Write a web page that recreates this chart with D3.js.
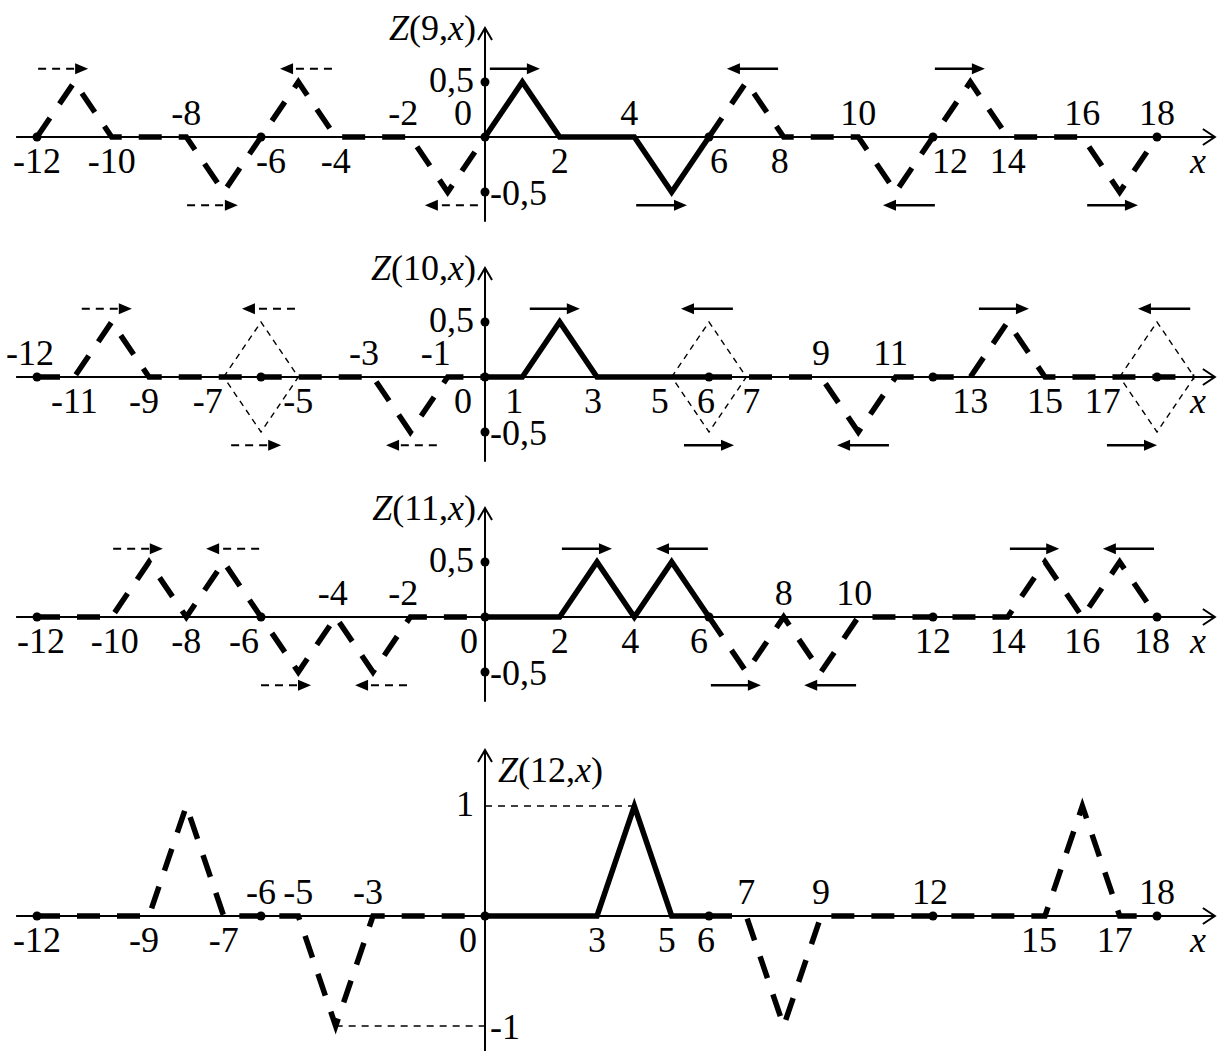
<!DOCTYPE html>
<html>
<head>
<meta charset="utf-8">
<script src="https://cdn.jsdelivr.net/npm/d3@7"></script>
<style>
  body { margin: 0; background: #fff; }
  text { font-family: "Liberation Serif", "Times New Roman", serif; font-size: 36px; fill: #000; }
</style>
</head>
<body>
<div id="chart"></div>
<script>
// ---- data (x in units, y = Z value) ----
const z9Solid = [[0,0],[1,0.5],[2,0],[4,0],[5,-0.5],[6,0]];
const z9DashLeft = [[-12,0],[-11,0.5],[-10,0],[-8,0],[-7,-0.5],[-6,0],[-5,0.5],[-4,0],[-2,0],[-1,-0.5],[0,0]];
const z9DashRight = [[6,0],[7,0.5],[8,0],[10,0],[11,-0.5],[12,0],[13,0.5],[14,0],[16,0],[17,-0.5],[18,0]];
const z9Top = [-8, -2, 0, 4, 10, 16, 18];
const z9Bottom = [-12, -10, -6, -4, 2, 6, 8, 12, 14];
// arrows: [from, to, level]
const z9ArrowsDashed = [[-11.97,-10.63,0.62],[-7.98,-6.62,-0.62],[-4.1,-5.49,0.62],[-0.19,-1.61,-0.62]];
const z9ArrowsSolid = [[0.13,1.47,0.62],[4.05,5.41,-0.62],[7.85,6.48,0.62],[12.05,10.66,-0.62],[12.05,13.39,0.62],[16.13,17.49,-0.62]];

const z10Solid = [[0,0],[1,0],[2,0.5],[3,0],[6,0]];
const z10DashLeft = [[-12,0],[-11,0],[-10,0.5],[-9,0],[-3,0],[-2,-0.5],[-1,0],[0,0]];
const z10DashRight = [[6,0],[9,0],[10,-0.5],[11,0],[13,0],[14,0.5],[15,0],[19,0]];
const z10Diamonds = [-6, 6, 18];
const z10Top = [-12, -3, -1, 9, 11];
const z10Bottom = [-11, -9, -7, -5, 0, 1, 3, 5, 6, 7, 13, 15, 17];
const z10ArrowsDashed = [[-10.8,-9.46,0.62],[-5.09,-6.51,0.62],[-6.8,-5.46,-0.62],[-1.29,-2.65,-0.62]];
const z10ArrowsSolid = [[1.2,2.54,0.62],[6.64,5.25,0.62],[5.33,6.67,-0.62],[10.82,9.43,-0.62],[13.23,14.57,0.62],[18.89,17.49,0.62],[16.66,18.0,-0.62]];

const z11Solid = [[0,0],[2,0],[3,0.5],[4,0],[5,0.5],[6,0]];
const z11DashLeft = [[-12,0],[-10,0],[-9,0.5],[-8,0],[-7,0.5],[-6,0],[-5,-0.5],[-4,0],[-3,-0.5],[-2,0],[0,0]];
const z11DashRight = [[6,0],[7,-0.5],[8,0],[9,-0.5],[10,0],[14,0],[15,0.5],[16,0],[17,0.5],[18,0]];
const z11Top = [-4, -2, 8, 10];
const z11Bottom = [-12, -10, -8, -6, 0, 2, 4, 6, 12, 14, 16, 18];
const z11ArrowsDashed = [[-9.96,-8.63,0.62],[-6.05,-7.47,0.62],[-6.0,-4.66,-0.62],[-2.09,-3.48,-0.62]];
const z11ArrowsSolid = [[2.06,3.4,0.62],[5.97,4.58,0.62],[6.05,7.39,-0.62],[9.94,8.55,-0.62],[14.06,15.38,0.62],[17.92,16.55,0.62]];

const z12Solid = [[0,0],[3,0],[4,1],[5,0],[6,0]];
const z12DashLeft = [[-12,0],[-9,0],[-8,1],[-7,0],[-5,0],[-4,-1],[-3,0],[0,0]];
const z12DashRight = [[6,0],[7,0],[8,-1],[9,0],[15,0],[16,1],[17,0],[18,0]];
const z12Guides = [[[0,1],[4,1]],[[-4,-1],[0,-1]]];
const z12Top = [-6, -5, -3, 7, 9, 12, 18];
const z12Bottom = [-12, -9, -7, 0, 3, 5, 6, 15, 17];

const markedPoints = [-12, -6, 0, 6, 12, 18];

// ---- layout ----
const W = 1219, H = 1051;
const x = d3.scaleLinear().domain([-12, 18]).range([37, 1157]);

const panels = [
  { n: 9,  base: 137, solid: z9Solid,  dashed: [z9DashLeft, z9DashRight],  top: z9Top,  bottom: z9Bottom,
    aDash: z9ArrowsDashed, aSolid: z9ArrowsSolid, yTicks: [0.5, -0.5], yExt: [-0.77, 0.99],
    shiftTop: {"-2": -7, "0": -22, "4": -5}, shiftBottom: {"-6": 10, "6": 10, "12": 17, "8": -4} },
  { n: 10, base: 377, solid: z10Solid, dashed: [z10DashLeft, z10DashRight], top: z10Top, bottom: z10Bottom,
    aDash: z10ArrowsDashed, aSolid: z10ArrowsSolid, yTicks: [0.5, -0.5], yExt: [-0.77, 0.99], diamonds: z10Diamonds,
    shiftTop: {"-12": -7, "-3": -9, "-1": -12, "11": -5},
    shiftBottom: {"-9": -5, "-7": -16, "0": -22, "1": -8, "3": -4, "5": -12, "6": -3, "7": 5, "17": -17} },
  { n: 11, base: 617, solid: z11Solid, dashed: [z11DashLeft, z11DashRight], top: z11Top, bottom: z11Bottom,
    aDash: z11ArrowsDashed, aSolid: z11ArrowsSolid, yTicks: [0.5, -0.5], yExt: [-0.77, 0.99],
    shiftTop: {"-4": -3, "-2": -7, "10": -4},
    shiftBottom: {"-12": 4, "-10": 3, "-6": -17, "0": -16, "4": -4, "6": -10, "18": -5} },
  { n: 12, base: 916, solid: z12Solid, dashed: [z12DashLeft, z12DashRight], top: z12Top, bottom: z12Bottom,
    aDash: [], aSolid: [], yTicks: [1, -1], yExt: [-1.24, 1.51], guides: z12Guides,
    shiftTop: {"-3": -5, "12": -3},
    shiftBottom: {"-9": -5, "0": -17, "5": -5, "6": -3, "15": -6, "17": -5} }
];

const svg = d3.select("#chart").append("svg")
  .attr("width", W).attr("height", H)
  .style("display", "block");

svg.append("rect").attr("width", W).attr("height", H).attr("fill", "#fff");

panels.forEach(p => {
  const y = d3.scaleLinear().domain([-1, 1]).range([p.base + 110, p.base - 110]);
  const line = d3.line().x(d => x(d[0])).y(d => y(d[1]));
  const g = svg.append("g");

  // x axis
  const x0 = x(-12.56), x1 = x(19.55);
  g.append("line").attr("x1", x0).attr("x2", x1).attr("y1", y(0)).attr("y2", y(0))
    .attr("stroke", "#000").attr("stroke-width", 2);
  g.append("path").attr("d", `M${x1 - 12},${y(0) - 8}L${x1},${y(0)}L${x1 - 12},${y(0) + 8}`)
    .attr("fill", "none").attr("stroke", "#000").attr("stroke-width", 2);

  // y axis
  const yt = y(p.yExt[1]), yb = y(p.yExt[0]);
  g.append("line").attr("x1", x(0)).attr("x2", x(0)).attr("y1", yb).attr("y2", yt)
    .attr("stroke", "#000").attr("stroke-width", 2);
  g.append("path").attr("d", `M${x(0) - 7},${yt + 12}L${x(0)},${yt}L${x(0) + 7},${yt + 12}`)
    .attr("fill", "none").attr("stroke", "#000").attr("stroke-width", 2);

  // thin dashed guides / diamonds
  (p.guides || []).forEach(gd => {
    g.append("path").attr("d", line(gd)).attr("fill", "none")
      .attr("stroke", "#000").attr("stroke-width", 1.4).attr("stroke-dasharray", "7,6");
  });
  (p.diamonds || []).forEach(c => {
    const pts = [[c - 1, 0], [c, 0.5], [c + 1, 0], [c, -0.5], [c - 1, 0]];
    g.append("path").attr("d", line(pts)).attr("fill", "none")
      .attr("stroke", "#000").attr("stroke-width", 1.4).attr("stroke-dasharray", "6,5");
  });

  // dashed copies
  p.dashed.forEach(seg => {
    g.append("path").attr("d", line(seg)).attr("fill", "none")
      .attr("stroke", "#000").attr("stroke-width", 5.5)
      .attr("stroke-dasharray", "23,17");
  });

  // main solid part
  g.append("path").attr("d", line(p.solid)).attr("fill", "none")
    .attr("stroke", "#000").attr("stroke-width", 5.5).attr("stroke-linejoin", "miter");

  // dots
  markedPoints.forEach(v => {
    g.append("circle").attr("cx", x(v)).attr("cy", y(0)).attr("r", 4.5).attr("fill", "#000");
  });
  if (p.n !== 12) {
    p.yTicks.forEach(v => {
      g.append("circle").attr("cx", x(0)).attr("cy", y(v)).attr("r", 4.5).attr("fill", "#000");
    });
  }

  // arrows
  const drawArrow = (a, dashed) => {
    const xa = x(a[0]), xb = x(a[1]), ya = y(a[2]);
    const dir = Math.sign(xb - xa);
    g.append("line").attr("x1", xa).attr("x2", xb - dir * 10).attr("y1", ya).attr("y2", ya)
      .attr("stroke", "#000").attr("stroke-width", dashed ? 2 : 2.5)
      .attr("stroke-dasharray", dashed ? "8,6" : null);
    g.append("path").attr("d", `M${xb},${ya}L${xb - dir * 13},${ya - 5.5}L${xb - dir * 13},${ya + 5.5}Z`)
      .attr("fill", "#000");
  };
  p.aDash.forEach(a => drawArrow(a, true));
  p.aSolid.forEach(a => drawArrow(a, false));

  // tick labels
  p.top.forEach(v => {
    g.append("text").attr("x", x(v) + (p.shiftTop[v] || 0)).attr("y", y(0) - 12)
      .attr("text-anchor", "middle").text(String(v));
  });
  p.bottom.forEach(v => {
    g.append("text").attr("x", x(v) + (p.shiftBottom[v] || 0)).attr("y", y(0) + 36)
      .attr("text-anchor", "middle").text(String(v));
  });
  g.append("text").attr("x", 1198).attr("y", y(0) + 36).attr("text-anchor", "middle")
    .style("font-style", "italic").text("x");

  // y labels
  const fmt = v => String(v).replace(".", ",");
  g.append("text").attr("x", x(0) - 11).attr("y", y(p.yTicks[0]) + 10)
    .attr("text-anchor", "end").text(fmt(p.yTicks[0]));
  g.append("text").attr("x", x(0) + 5).attr("y", y(p.yTicks[1]) + 13)
    .attr("text-anchor", "start").text(fmt(p.yTicks[1]));

  // function name
  const t = g.append("text");
  if (p.n === 12) t.attr("x", 498).attr("y", p.base - 134).attr("text-anchor", "start");
  else t.attr("x", 476).attr("y", p.base - 97).attr("text-anchor", "end");
  t.append("tspan").style("font-style", "italic").text("Z");
  t.append("tspan").text(`(${p.n},`);
  t.append("tspan").style("font-style", "italic").text("x");
  t.append("tspan").text(")");
});
</script>
</body>
</html>
